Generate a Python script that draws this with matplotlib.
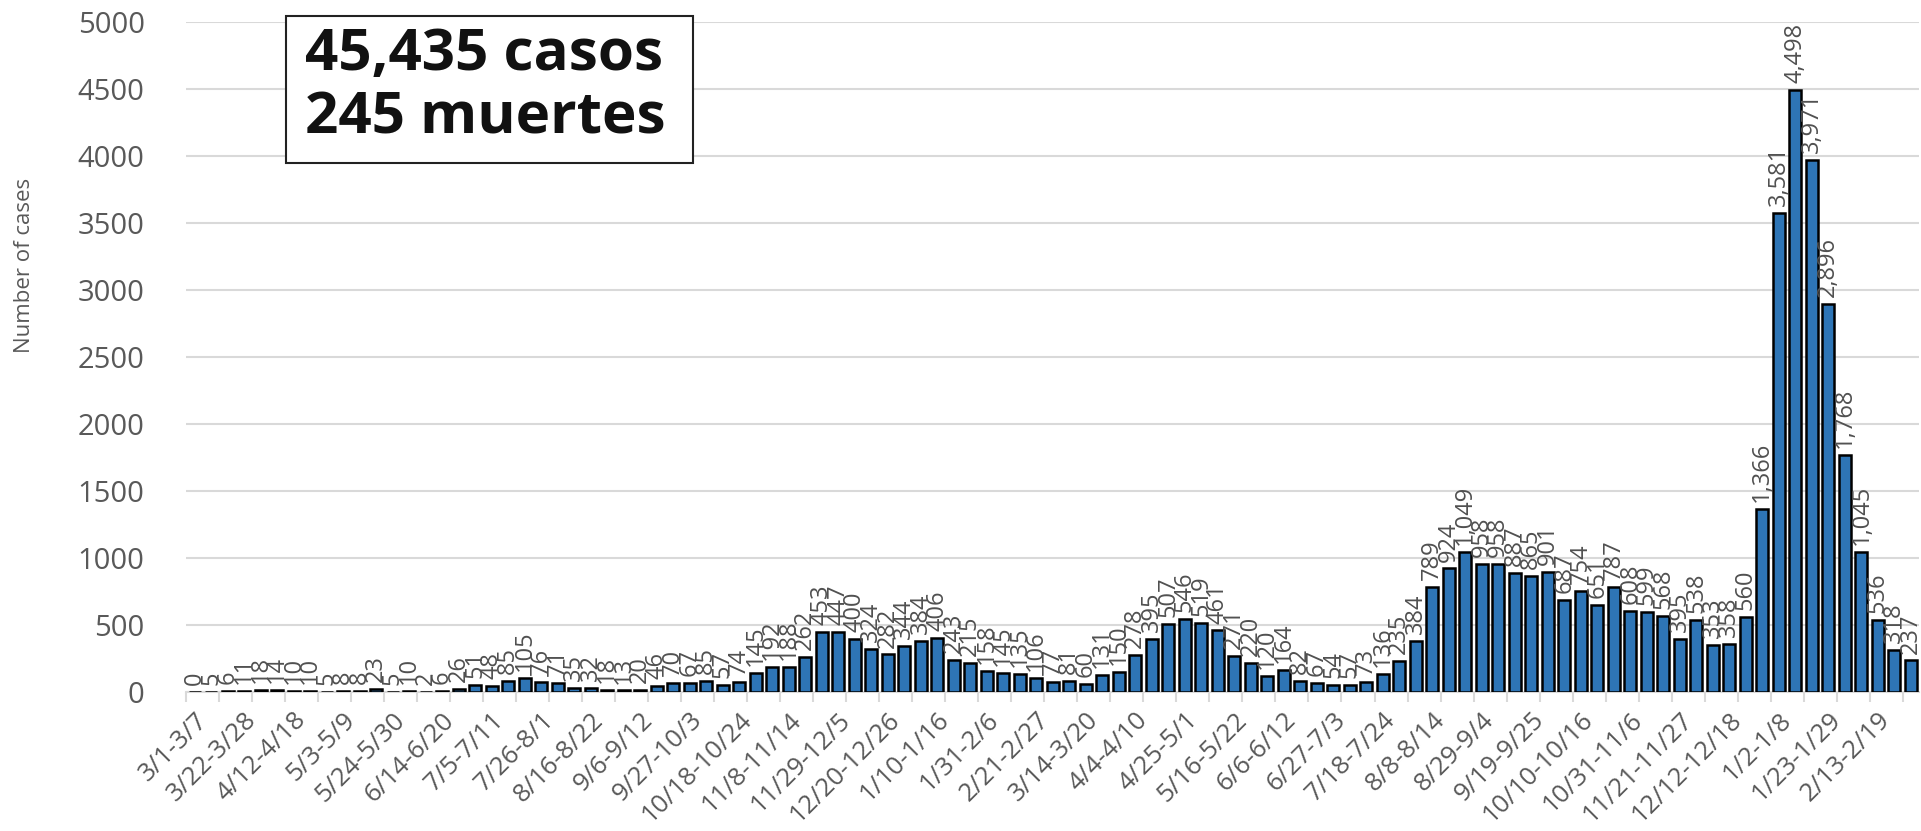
import numpy as np
import matplotlib
matplotlib.use("Agg")
import matplotlib.pyplot as plt
from matplotlib.patches import Rectangle

plt.rcParams['font.family'] = ['Open Sans', 'DejaVu Sans']

# weekly cases, 3/1/2020 -> 2/20-2/26/2022
cases = [0, 5, 6, 11, 18, 14, 10, 10, 5, 8, 8, 23, 5, 10, 2, 6, 26, 51, 48, 85,
         105, 76, 71, 35, 32, 18, 13, 20, 46, 70, 67, 85, 57, 74, 145, 192, 188, 262,
         453, 447, 400, 324, 282, 344, 384, 406, 243, 215, 158, 145, 135, 106, 77, 81,
         60, 131, 150, 278, 395, 507, 546, 519, 461, 271, 220, 120, 164, 82, 67, 54,
         57, 73, 136, 235, 384, 789, 924, 1049, 958, 958, 887, 865, 901, 687, 754, 651,
         787, 608, 599, 568, 395, 538, 353, 358, 560, 1366, 3581, 4498, 3971, 2896,
         1768, 1045, 536, 318, 237]

# every third week is labelled on the x axis
week_labels = ['3/1-3/7', '3/22-3/28', '4/12-4/18', '5/3-5/9', '5/24-5/30',
               '6/14-6/20', '7/5-7/11', '7/26-8/1', '8/16-8/22', '9/6-9/12',
               '9/27-10/3', '10/18-10/24', '11/8-11/14', '11/29-12/5', '12/20-12/26',
               '1/10-1/16', '1/31-2/6', '2/21-2/27', '3/14-3/20', '4/4-4/10',
               '4/25-5/1', '5/16-5/22', '6/6-6/12', '6/27-7/3', '7/18-7/24',
               '8/8-8/14', '8/29-9/4', '9/19-9/25', '10/10-10/16', '10/31-11/6',
               '11/21-11/27', '12/12-12/18', '1/2-1/8', '1/23-1/29', '2/13-2/19']

yticks = [0, 500, 1000, 1500, 2000, 2500, 3000, 3500, 4000, 4500, 5000]

grey = '#595959'
grid_grey = '#d9d9d9'

fig = plt.figure(figsize=(19.21, 8.31), dpi=100)
ax = fig.add_axes([0.097, 0.167, 0.902, 0.806])

x = np.arange(len(cases))
bars = ax.bar(x, cases, width=0.72, color='#2e75b6', edgecolor='black',
              linewidth=1.8, zorder=3)

ax.bar_label(bars, labels=[f'{v:,}' for v in cases], rotation=90, padding=5,
             fontsize=17, color='#505050')

ax.set_xlim(-0.5, len(cases) - 0.5)
ax.set_ylim(0, 5000)
ax.set_yticks(yticks)
ax.tick_params(axis='y', length=0, labelsize=21, labelcolor=grey, pad=30)
ax.grid(axis='y', color=grid_grey, linewidth=1.5, zorder=0)

# labels every 3 weeks, tick marks every 2 weeks on category boundaries
ax.set_xticks(x[::3])
ax.set_xticklabels(week_labels, rotation=45, ha='right', va='top',
                   rotation_mode='anchor', fontsize=18.5, color=grey)
ax.tick_params(axis='x', which='major', length=0, pad=11)
ax.set_xticks(np.arange(-0.5, len(cases), 2), minor=True)
ax.tick_params(axis='x', which='minor', length=7, width=1.5, color=grid_grey)

for side in ['top', 'right', 'left']:
    ax.spines[side].set_visible(False)
ax.spines['bottom'].set_color(grid_grey)
ax.spines['bottom'].set_linewidth(1.5)

fig.text(0.013, 0.68, 'Number of cases', rotation=90, ha='center', va='center',
         fontsize=16, color=grey)

# summary box
fig.add_artist(Rectangle((0.1489, 0.8039), 0.2118, 0.1768, transform=fig.transFigure,
                         facecolor='white', edgecolor='#222222', linewidth=1.5,
                         zorder=5))
fig.text(0.1588, 0.9338, '45,435 casos', fontsize=42, fontweight='bold',
         color='#111111', ha='left', va='center', zorder=6)
fig.text(0.1588, 0.8568, '245 muertes', fontsize=42, fontweight='bold',
         color='#111111', ha='left', va='center', zorder=6)

fig.savefig('out.png', dpi=100)
